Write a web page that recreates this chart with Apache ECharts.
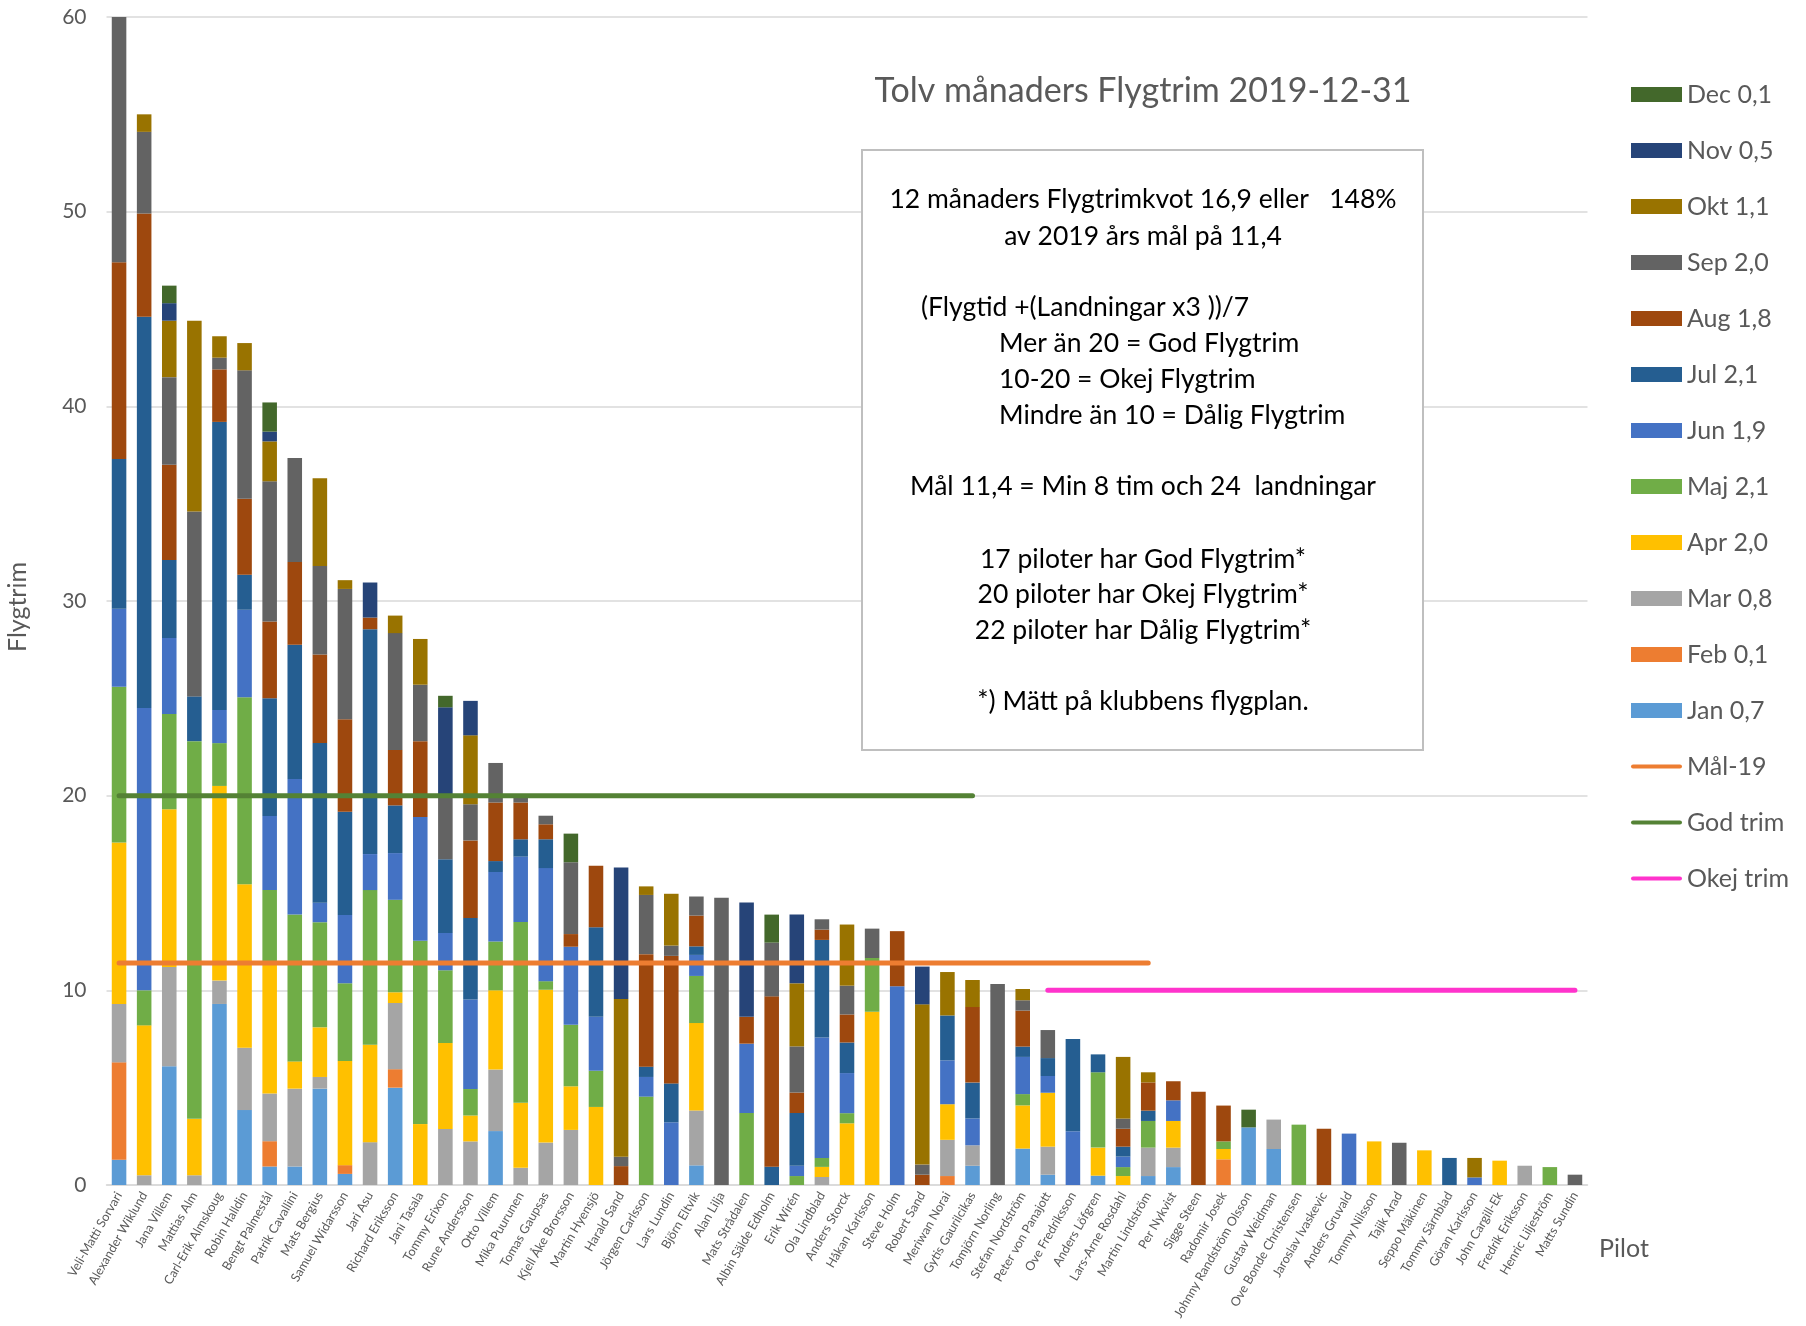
<!DOCTYPE html>
<html>
<head>
<meta charset="utf-8">
<script src="https://cdn.jsdelivr.net/npm/echarts@6/dist/echarts.min.js"></script>
<style>html,body{margin:0;padding:0;background:#fff;}#c{width:1806px;height:1326px;}</style>
</head>
<body>
<div id="c"></div>
<script>
const pilots = ["Veli-Matti Sorvari","Alexander Wiklund","Jana Villem","Mattias Alm","Carl-Erik Almskoug","Robin Halldin","Bengt Palmestål","Patrik Cavallini","Mats Bergius","Samuel Widarsson",
"Jari Asu","Richard Eriksson","Jani Tasala","Tommy Erixon","Rune Andersson","Otto Villem","Mika Puurunen","Tomas Gaupsas","Kjell Åke Brorsson","Martin Hyensjö",
"Harald Sand","Jörgen Carlsson","Lars Lundin","Björn Eltvik","Alan Lilja","Mats Strådalen","Albin Sälde Edholm","Erik Wirén","Ola Lindblad","Anders Storck",
"Håkan Karlsson","Steve Holm","Robert Sand","Meriwan Norai","Gytis Gaurilcikas","Tomjörn Norling","Stefan Nordström","Peter von Panajott","Ove Fredriksson","Anders Löfgren",
"Lars-Arne Rosdahl","Martin Lindström","Per Nykvist","Sigge Steen","Radomir Josek","Johnny Randström Olsson","Gustav Weidman","Ove Bonde Christensen","Jaroslav Ivaskevic","Anders Gruvald",
"Tommy Nilsson","Tajik Arad","Seppo Mäkinen","Tommy Särnblad","Göran Karlsson","John Cargill-Ek","Fredrik Eriksson","Henric Liljeström","Matts Sundin"];

const jan = [1.3,0,6.1,0,9.3,3.85,0.95,0.95,4.95,0.57, 0,5.0,0,0,0,2.77,0,0,0,0, 0,0,0,1.01,0,0,0,0,0,0, 0,0,0,0,0.99,0,1.87,0.53,0,0.48, 0,0.46,0.92,0,0,2.96,1.85,0,0,0, 0,0,0,0,0,0,0,0,0];
const feb = [5.0,0,0,0,0,0,1.3,0,0,0.45, 0,0.95,0,0,0,0,0,0,0,0, 0,0,0,0,0,0,0,0,0,0, 0,0,0,0.46,0,0,0,0,0,0, 0,0,0,0,1.32,0,0,0,0,0, 0,0,0,0,0,0,0,0,0];
const mar = [3.0,0.5,5.1,0.5,1.2,3.2,2.45,4.0,0.6,0, 2.2,3.4,0,2.88,2.24,3.16,0.88,2.18,2.83,0, 0,0,0,2.82,0,0,0,0,0.41,0, 0,0,0,1.86,1.05,0,0,1.44,0,0, 0,1.46,1.0,0,0,0,1.51,0,0,0, 0,0,0,0,0,0,0.99,0,0];
const apr = [8.3,7.7,8.1,2.9,10.0,8.4,6.6,1.4,2.55,5.35, 5.0,0.55,3.13,4.42,1.33,4.07,3.34,7.85,2.24,4.01, 0,0,0,4.49,0,0,0,0,0.52,3.17, 8.9,0,0,1.83,0,0,2.22,2.77,0,1.44, 0.46,0,1.37,0,0.53,0,0,0,0,0, 2.24,0,1.78,0,0,1.25,0,0,0];
const maj = [8.0,1.8,4.9,19.4,2.2,9.6,3.85,7.55,5.4,4.0, 7.95,4.75,9.42,3.73,1.36,2.51,9.29,0.44,3.16,1.86, 0,4.54,0,2.42,0,3.7,0,0.46,0.46,0.52, 2.76,0,0,0,0,0,0.58,0,0,3.87, 0.46,1.37,0,0,0.39,0,0,3.1,0,0, 0,0,0,0,0,0,0,0.92,0];
const jun = [4.0,14.5,3.9,0,1.7,4.5,3.8,6.95,1.0,3.5, 1.85,2.4,6.35,1.92,4.6,3.57,3.36,5.81,4.01,2.77, 0,1.01,3.22,1.08,0,3.56,0,0.53,6.19,2.06, 0,10.21,0,2.25,1.38,0,1.91,0.86,2.76,0, 0.54,0,1.06,0,0,0,0,0,0,2.64, 0,0,0,0,0.39,0,0,0,0];
const jul = [7.7,20.1,4.0,2.3,14.8,1.8,6.05,6.9,8.2,5.3, 11.55,2.45,0,3.78,4.19,0.56,0.89,1.48,0,4.6, 0,0.53,2.0,0.44,0,0,0.94,2.71,5.01,1.57, 0,0,0,2.31,1.84,0,0.53,0.92,4.74,0.92, 0.51,0.53,0,0,0,0,0,0,0,0, 0,0,0,1.39,0,0,0,0,0];
const aug = [10.1,5.3,4.9,0,2.7,3.9,3.95,4.25,4.55,4.75, 0.6,2.85,3.9,0,3.98,3.01,1.89,0.77,0.65,3.16, 0.97,5.78,6.55,1.58,0,1.38,8.75,1.05,0.53,1.44, 0,2.83,0.53,0,3.88,0,1.85,0,0,0, 0.92,1.45,0.98,4.79,1.84,0,0,0,2.89,0, 0,0,0,0,0,0,0,0,0];
const sep = [12.6,4.2,4.5,9.5,0.6,6.6,7.2,5.35,4.55,6.7, 0,6.0,2.9,3.36,1.86,2.03,0.32,0.44,3.69,0, 0.48,3.04,0.53,0.98,14.75,0,2.76,2.37,0.53,1.48, 1.51,0,0.52,0,0,10.33,0.53,1.44,0,0, 0.52,0,0,0,0,0,0,0,0,0, 0,2.17,0,0,0,0,0,0,0.53];
const okt = [0,0.9,2.9,9.8,1.1,1.4,2.05,0,4.5,0.45, 0,0.9,2.35,0,3.54,0,0,0,0,0, 8.11,0.44,2.66,0,0,0,0,3.24,0,3.14, 0,0,8.23,2.23,1.39,0,0.58,0,0,0, 3.17,0.52,0,0,0,0,0,0,0,0, 0,0,0,0,1.0,0,0,0,0];
const nov = [0,0,0.9,0,0,0,0.5,0,0,0, 1.8,0,0,4.45,1.77,0,0,0,0,0, 6.75,0,0,0,0,5.87,0,3.53,0,0, 0,0,1.94,0,0,0,0,0,0,0, 0,0,0,0,0,0,0,0,0,0, 0,0,0,0,0,0,0,0,0];
const dec = [0,0,0.9,0,0,0,1.5,0,0,0, 0,0,0,0.59,0,0,0,0,1.47,0, 0,0,0,0,0,0,1.44,0,0,0, 0,0,0,0,0,0,0,0,0,0, 0,0,0,0,0,0.91,0,0,0,0, 0,0,0,0,0,0,0,0,0];

const malLine = [11.4,11.4,11.4,11.4,11.4,11.4,11.4,11.4,11.4,11.4, 11.4,11.4,11.4,11.4,11.4,11.4,11.4,11.4,11.4,11.4, 11.4,11.4,11.4,11.4,11.4,11.4,11.4,11.4,11.4,11.4, 11.4,11.4,11.4,11.4,11.4,11.4,11.4,11.4,11.4,11.4, 11.4,11.4,null,null,null,null,null,null,null,null, null,null,null,null,null,null,null,null,null];
const godLine = [20,20,20,20,20,20,20,20,20,20, 20,20,20,20,20,20,20,20,20,20, 20,20,20,20,20,20,20,20,20,20, 20,20,20,20,20,null,null,null,null,null, null,null,null,null,null,null,null,null,null,null, null,null,null,null,null,null,null,null,null];
const okejLine = [null,null,null,null,null,null,null,null,null,null, null,null,null,null,null,null,null,null,null,null, null,null,null,null,null,null,null,null,null,null, null,null,null,null,null,null,null,10,10,10, 10,10,10,10,10,10,10,10,10,10, 10,10,10,10,10,10,10,10,10];

const monthNames = ["Jan 0,7","Feb 0,1","Mar 0,8","Apr 2,0","Maj 2,1","Jun 1,9","Jul 2,1","Aug 1,8","Sep 2,0","Okt 1,1","Nov 0,5","Dec 0,1"];
const monthData = [jan,feb,mar,apr,maj,jun,jul,aug,sep,okt,nov,dec];
const monthColors = ["#5B9BD5","#ED7D31","#A5A5A5","#FFC000","#70AD47","#4472C4","#255E91","#9E480E","#636363","#997300","#264478","#43682B"];
const yTicks = [0,10,20,30,40,50,60];

const FONT = 'Lato, "Open Sans", sans-serif';
const chart = echarts.init(document.getElementById('c'), null, {renderer:'canvas'});

const series = monthData.map((d,i)=>({
  name: monthNames[i], type:'bar', stack:'total', data:d, barWidth:'58%',
  itemStyle:{color:monthColors[i]}, emphasis:{disabled:true}
}));
series.push({name:'Mål-19', type:'line', data:malLine, symbol:'none',
  lineStyle:{color:'#ED7D31', width:5, cap:'round'}, itemStyle:{color:'#ED7D31'}, z:5});
series.push({name:'God trim', type:'line', data:godLine, symbol:'none',
  lineStyle:{color:'#548235', width:5, cap:'round'}, itemStyle:{color:'#548235'}, z:5});
series.push({name:'Okej trim', type:'line', data:okejLine, symbol:'none',
  lineStyle:{color:'#FF33CC', width:5, cap:'round'}, itemStyle:{color:'#FF33CC'}, z:5});

const lineIcon = 'path://M2,0 L48,0 A2,2 0 0 1 48,4 L2,4 A2,2 0 0 1 2,0 Z';
const legendOrder = monthNames.slice().reverse().map(n=>({name:n, icon:'rect'}))
  .concat(['Mål-19','God trim','Okej trim'].map(n=>({name:n, icon:lineIcon})));

const boxLines = [
  {t:'12 månaders Flygtrimkvot 16,9 eller   148%', y:199, c:true},
  {t:'av 2019 års mål på 11,4', y:236, c:true},
  {t:'(Flygtid +(Landningar x3 ))/7', y:307, x:921},
  {t:'Mer än 20 = God Flygtrim', y:343, x:999},
  {t:'10-20 = Okej Flygtrim', y:379, x:999},
  {t:'Mindre än 10 = Dålig Flygtrim', y:415, x:999},
  {t:'Mål 11,4 = Min 8 tim och 24  landningar', y:486, c:true},
  {t:'17 piloter har God Flygtrim*', y:559, c:true},
  {t:'20 piloter har Okej Flygtrim*', y:594, c:true},
  {t:'22 piloter har Dålig Flygtrim*', y:630, c:true},
  {t:'*) Mätt på klubbens flygplan.', y:701, c:true}
];
const graphics = [
  {type:'rect', shape:{x:862,y:150,width:561,height:600}, style:{fill:'#fff', stroke:'#BFBFBF', lineWidth:2}, z:10},
  {type:'text', x:1143, y:91, style:{text:'Tolv månaders Flygtrim 2019-12-31', font:'34px '+FONT, fill:'#595959', textAlign:'center', textVerticalAlign:'middle'}, z:10},
  {type:'text', x:18, y:607, rotation:Math.PI/2, style:{text:'Flygtrim', font:'25px '+FONT, fill:'#595959', textAlign:'center', textVerticalAlign:'middle'}, z:10},
  {type:'text', x:1624, y:1249, style:{text:'Pilot', font:'25px '+FONT, fill:'#595959', textAlign:'center', textVerticalAlign:'middle'}, z:10}
];
boxLines.forEach(l=>{
  graphics.push({type:'text', x: l.c ? 1143 : l.x, y:l.y, z:11,
    style:{text:l.t, font:'26.5px '+FONT, fill:'#000', textAlign: l.c ? 'center':'left', textVerticalAlign:'middle'}});
});

chart.setOption({
  animation:false,
  textStyle:{fontFamily:FONT},
  grid:{left:106.5, right:218.5, top:17, bottom:141},
  legend:{
    data:legendOrder, orient:'vertical', left:1626, top:77, itemWidth:51, itemHeight:15, itemGap:31,
    textStyle:{fontSize:25, color:'#595959', fontFamily:FONT, lineHeight:15}, selectedMode:false
  },
  xAxis:{type:'category', data:pilots,
    axisLine:{lineStyle:{color:'#D9D9D9', width:1.5}}, axisTick:{show:false},
    axisLabel:{interval:0, rotate:60, fontSize:12.5, color:'#595959', margin:8, fontFamily:FONT}},
  yAxis:{type:'value', min:0, max:60, interval:10,
    axisLine:{show:false}, axisTick:{show:false},
    splitLine:{lineStyle:{color:'#D9D9D9', width:1.5}},
    axisLabel:{fontSize:21, color:'#595959', margin:20, fontFamily:FONT,
      formatter:v=> yTicks.indexOf(v)>=0 ? String(v) : ''}},
  series:series,
  graphic:graphics
});
</script>
</body>
</html>
